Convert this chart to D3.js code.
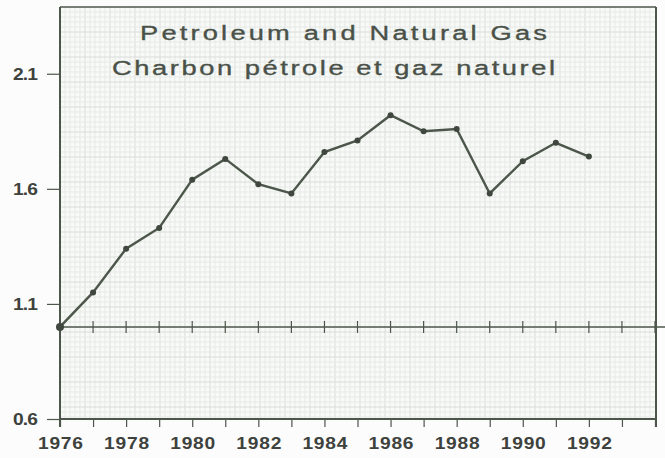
<meta charset="utf-8">
<script src="https://d3js.org/d3.v7.min.js"></script>
<style>
body { margin:0; background:#fbfcfb; overflow:hidden; }
text { font-family: Arial, "Liberation Sans", sans-serif; }
</style>
<body>
<div id="chart"></div>
<script>
var years = [1976,1977,1978,1979,1980,1981,1982,1983,1984,1985,1986,1987,1988,1989,1990,1991,1992];
var values = [1.00,1.15,1.34,1.43,1.64,1.73,1.62,1.58,1.76,1.81,1.92,1.85,1.86,1.58,1.72,1.80,1.74];
var yTicks = [0.6,1.1,1.6,2.1];
var xLabels = [1976,1978,1980,1982,1984,1986,1988,1990,1992];
var titles = ["Petroleum and Natural Gas","Charbon pétrole et gaz naturel"];
var baseValue = 1.0;

var width = 665, height = 458,
    mLeft = 60, mRight = 655, mTop = 7, mBottom = 419,
    ink = "#4d564b", stretch = 1.3;

var svg = d3.select("#chart").append("svg")
  .attr("width", width).attr("height", height);

var x = d3.scaleLinear().domain([1976,1994]).range([mLeft,mRight]);
var y = d3.scaleLinear().domain([0.6,2.39]).range([mBottom,mTop]);

// graph paper background
var paper = svg.append("g");
paper.append("rect").attr("x",mLeft).attr("y",mTop)
  .attr("width",mRight-mLeft).attr("height",mBottom-mTop).attr("fill","#f8faf8");
paper.selectAll("line.gv").data(d3.range(mLeft+5,mRight,5)).enter().append("line")
  .attr("x1",d=>d).attr("x2",d=>d).attr("y1",mTop).attr("y2",mBottom)
  .attr("stroke",(d,i)=> (i%5==4) ? "#d8dcd8" : "#e6e9e6").attr("stroke-width",1);
paper.selectAll("line.gh").data(d3.range(mTop+5,mBottom,5)).enter().append("line")
  .attr("y1",d=>d).attr("y2",d=>d).attr("x1",mLeft).attr("x2",mRight)
  .attr("stroke",(d,i)=> (i%5==4) ? "#d8dcd8" : "#e6e9e6").attr("stroke-width",1);

// frame top/right
svg.append("line").attr("x1",mLeft).attr("x2",mRight+1).attr("y1",mTop).attr("y2",mTop)
  .attr("stroke",ink).attr("stroke-width",1.5);
svg.append("line").attr("x1",mRight+1).attr("x2",mRight+1).attr("y1",mTop).attr("y2",mBottom+8)
  .attr("stroke",ink).attr("stroke-width",2);

// titles (wide face: stretched horizontally)
svg.selectAll("text.title").data(titles).enter().append("text")
  .attr("class","title")
  .attr("transform",(d,i)=> "translate(" + (i==0 ? 140 : 112) + "," + (i==0 ? 40 : 75) + ") scale(" + stretch + ",1)")
  .attr("textLength",(d,i)=> (i==0 ? 407 : 443) / stretch)
  .attr("font-size",21)
  .attr("fill","#4a5148").attr("stroke","#4a5148").attr("stroke-width",0.35)
  .text(d=>d);

// y axis
var yAxis = svg.append("g").attr("transform","translate("+mLeft+",0)")
  .call(d3.axisLeft(y).tickValues(yTicks).tickFormat(d3.format(".1f")).tickSize(13).tickPadding(9));
yAxis.select(".domain").attr("d","M0,"+mTop+"V"+(mBottom+8)).attr("stroke",ink).attr("stroke-width",2);
yAxis.selectAll(".tick line").attr("stroke",ink).attr("stroke-width",1.2);
yAxis.selectAll(".tick text").remove();
svg.append("g").selectAll("text").data(yTicks).enter().append("text")
  .attr("transform",d=> "translate(13," + (y(d)+6) + ") scale(1.2,1)")
  .attr("font-size",16).attr("font-weight","bold")
  .attr("fill","#3e423d").attr("textLength",25/1.2)
  .text(d3.format(".1f"));

// bottom x axis
var xAxis = svg.append("g").attr("transform","translate(0,"+mBottom+")")
  .call(d3.axisBottom(x).ticks(18).tickFormat("").tickSize(8));
xAxis.select(".domain").attr("d","M"+mLeft+",0H"+(mRight+1)).attr("stroke",ink).attr("stroke-width",2);
xAxis.selectAll(".tick line").attr("stroke",ink).attr("stroke-width",1.2);
svg.append("g").selectAll("text").data(xLabels).enter().append("text")
  .attr("transform",d=> "translate(" + (x(d)-22) + "," + (mBottom+30) + ") scale(1.2,1)")
  .attr("font-size",16).attr("font-weight","bold")
  .attr("fill","#3e423d").attr("textLength",45/1.2)
  .text(d=>d);

// baseline at 1.0 with crossing ticks
var base = svg.append("g");
base.append("line").attr("x1",mLeft).attr("x2",width).attr("y1",y(baseValue)).attr("y2",y(baseValue))
  .attr("stroke",ink).attr("stroke-width",1.5);
base.selectAll("line.bt").data(d3.range(1977,1995)).enter().append("line")
  .attr("x1",d=>x(d)).attr("x2",d=>x(d))
  .attr("y1",y(baseValue)-6).attr("y2",y(baseValue)+6)
  .attr("stroke",ink).attr("stroke-width",1.2);

// series
var line = d3.line().x((d,i)=>x(years[i])).y(d=>y(d));
svg.append("path").datum(values).attr("d",line)
  .attr("fill","none").attr("stroke",ink).attr("stroke-width",2.4);
svg.selectAll("circle.pt").data(values).enter().append("circle")
  .attr("cx",(d,i)=>x(years[i])).attr("cy",d=>y(d))
  .attr("r",(d,i)=> i==0 ? 4 : 3).attr("fill","#3f473e");
</script>
</body>
